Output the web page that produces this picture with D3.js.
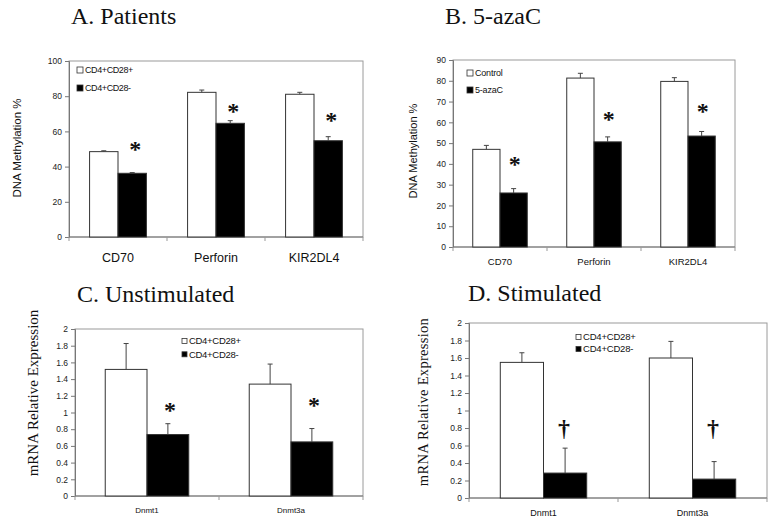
<!DOCTYPE html>
<html><head><meta charset="utf-8">
<script src="https://cdn.jsdelivr.net/npm/d3@7"></script>
<style>body{margin:0;background:#fff}svg{display:block}</style>
</head><body>
<svg id="c" width="774" height="522"></svg>
<script>
// Panel A: Patients
const catsA = ["CD70", "Perforin", "KIR2DL4"];
const seriesA = ["CD4+CD28+", "CD4+CD28-"];
const plusA = [48.5, 82.2, 81.1];
const plusErrA = [0.5, 1.3, 1.1];
const minusA = [36.2, 64.6, 54.7];
const minusErrA = [0.4, 1.5, 2.3];
const markA = [51.7, 73.1, 68.4];
const ticksA = [0, 20, 40, 60, 80, 100];

// Panel B: 5-azaC
const catsB = ["CD70", "Perforin", "KIR2DL4"];
const seriesB = ["Control", "5-azaC"];
const ctrlB = [47.0, 81.3, 79.7];
const ctrlErrB = [1.9, 2.3, 1.8];
const azaB = [26.0, 50.6, 53.4];
const azaErrB = [2.1, 2.4, 2.2];
const markB = [41.5, 63.0, 66.8];
const ticksB = [0, 10, 20, 30, 40, 50, 60, 70, 80, 90];

// Panel C: Unstimulated
const catsC = ["Dnmt1", "Dnmt3a"];
const seriesC = ["CD4+CD28+", "CD4+CD28-"];
const plusC = [1.516, 1.34];
const plusErrC = [0.31, 0.24];
const minusC = [0.736, 0.648];
const minusErrC = [0.13, 0.16];
const markC = [1.07, 1.13];
const ticksC = [0, 0.2, 0.4, 0.6, 0.8, 1, 1.2, 1.4, 1.6, 1.8, 2];

// Panel D: Stimulated
const catsD = ["Dnmt1", "Dnmt3a"];
const seriesD = ["CD4+CD28+", "CD4+CD28-"];
const plusD = [1.55, 1.60];
const plusErrD = [0.11, 0.19];
const minusD = [0.285, 0.216];
const minusErrD = [0.285, 0.20];
const markD = [0.78, 0.78];
const ticksD = [0, 0.2, 0.4, 0.6, 0.8, 1, 1.2, 1.4, 1.6, 1.8, 2];

const svg = d3.select("#c");
const SANS = "'Liberation Sans', Arial, sans-serif";
const SERIF = "'Liberation Serif', 'Times New Roman', serif";

function panel(o) {
  const g = svg.append("g");
  const x = d3.scaleBand().domain(o.cats).range([o.left, o.right]).paddingInner(0.42).paddingOuter(0.21);
  const xs = d3.scaleBand().domain([0, 1]).range([0, x.bandwidth()]);
  const y = d3.scaleLinear().domain([0, o.ymax]).range([o.bottom, o.top]);

  // title
  g.append("text").attr("x", o.titleX).attr("y", o.titleY)
    .attr("font-family", SERIF).attr("font-size", 24).attr("fill", "#111").text(o.title);

  // plot frame
  g.append("rect").attr("x", o.left).attr("y", o.top)
    .attr("width", o.right - o.left).attr("height", o.bottom - o.top)
    .attr("fill", "none").attr("stroke", "#9a9a9a").attr("stroke-width", 1);

  // y axis
  const ya = d3.axisLeft(y).tickValues(o.ticks).tickSize(4).tickPadding(3).tickFormat(d3.format(""));
  const yg = g.append("g").attr("transform", `translate(${o.left},0)`).call(ya);
  yg.select(".domain").attr("stroke", "#777");
  yg.selectAll(".tick line").attr("stroke", "#777");
  yg.selectAll("text").attr("font-family", SANS).attr("font-size", o.tickFs).attr("fill", "#222");

  // x axis: boundary ticks
  const bounds = d3.range(o.cats.length + 1).map(i => o.left + i * (o.right - o.left) / o.cats.length);
  g.append("line").attr("x1", o.left).attr("x2", o.right).attr("y1", o.bottom).attr("y2", o.bottom).attr("stroke", "#777");
  g.selectAll(".bt").data(bounds).join("line")
    .attr("x1", d => d).attr("x2", d => d).attr("y1", o.bottom).attr("y2", o.bottom + 4).attr("stroke", "#999");
  g.selectAll(".cl").data(o.cats).join("text")
    .attr("x", d => x(d) + x.bandwidth() / 2).attr("y", o.catY)
    .attr("text-anchor", "middle").attr("font-family", SANS).attr("font-size", o.catFs).attr("fill", "#111")
    .text(d => d);

  // bars
  const sers = [
    { vals: o.v0, errs: o.e0, fill: "#fff" },
    { vals: o.v1, errs: o.e1, fill: "#000" }
  ];
  sers.forEach((s, si) => {
    o.cats.forEach((c, ci) => {
      const bx = x(c) + xs(si);
      const bw = xs.bandwidth();
      const v = s.vals[ci], e = s.errs[ci];
      g.append("rect").attr("x", bx).attr("y", y(v)).attr("width", bw).attr("height", y(0) - y(v))
        .attr("fill", s.fill).attr("stroke", "#333").attr("stroke-width", 1);
      const cx = bx + bw / 2;
      g.append("line").attr("x1", cx).attr("x2", cx).attr("y1", y(v)).attr("y2", y(v + e)).attr("stroke", "#444");
      g.append("line").attr("x1", cx - 2.5).attr("x2", cx + 2.5).attr("y1", y(v + e)).attr("y2", y(v + e)).attr("stroke", "#444");
    });
  });

  // significance marks
  o.cats.forEach((c, ci) => {
    const cx = x(c) + xs(1) + xs.bandwidth() / 2 + o.markDx;
    g.append("text").attr("x", cx).attr("y", y(o.marks[ci]) + o.markOff)
      .attr("text-anchor", "middle").attr("font-family", SERIF).attr("font-weight", "bold")
      .attr("font-size", o.markFs).attr("fill", "#111").text(o.mark);
  });

  // legend
  o.series.forEach((s, i) => {
    const ly = o.legY + i * o.legDy;
    g.append("rect").attr("x", o.legX).attr("y", ly - o.legSq / 2).attr("width", o.legSq).attr("height", o.legSq)
      .attr("fill", i === 0 ? "#fff" : "#000").attr("stroke", "#333").attr("stroke-width", 0.8);
    g.append("text").attr("x", o.legX + o.legSq + 2).attr("y", ly).attr("dy", "0.35em")
      .attr("font-family", SANS).attr("font-size", o.legFs).attr("letter-spacing", o.legLs).attr("fill", "#111").text(s);
  });

  // y label
  g.append("text").attr("transform", `translate(${o.ylabX},${o.ylabY}) rotate(-90)`)
    .attr("text-anchor", "middle").attr("dy", "0.35em")
    .attr("font-family", o.ylabFont).attr("font-size", o.ylabFs).attr("letter-spacing", o.ylabLs || 0).attr("fill", "#111").text(o.ylab);
}

panel({ title: "A. Patients", titleX: 71, titleY: 24, cats: catsA, series: seriesA,
  v0: plusA, e0: plusErrA, v1: minusA, e1: minusErrA, marks: markA, mark: "*", markFs: 24, markOff: 11, markDx: 3,
  left: 69, right: 363, top: 61, bottom: 237, ymax: 100, ticks: ticksA, tickFs: 8.5,
  catY: 261.5, catFs: 12.5, legX: 77, legY: 70, legDy: 18, legSq: 6, legFs: 9, legLs: -0.4,
  ylab: "DNA Methylation %", ylabX: 17, ylabY: 148, ylabFont: SANS, ylabFs: 11.5 });

panel({ title: "B. 5-azaC", titleX: 445, titleY: 23.5, cats: catsB, series: seriesB,
  v0: ctrlB, e0: ctrlErrB, v1: azaB, e1: azaErrB, marks: markB, mark: "*", markFs: 24, markOff: 11, markDx: 1,
  left: 453, right: 735, top: 60, bottom: 247, ymax: 90, ticks: ticksB, tickFs: 8.5,
  catY: 265, catFs: 9.5, legX: 467, legY: 73, legDy: 17, legSq: 6, legFs: 9, legLs: -0.2,
  ylab: "DNA Methylation %", ylabX: 413, ylabY: 151, ylabFont: SANS, ylabFs: 11 });

panel({ title: "C. Unstimulated", titleX: 77, titleY: 302, cats: catsC, series: seriesC,
  v0: plusC, e0: plusErrC, v1: minusC, e1: minusErrC, marks: markC, mark: "*", markFs: 24, markOff: 11, markDx: 2,
  left: 75, right: 363, top: 329, bottom: 496, ymax: 2, ticks: ticksC, tickFs: 8.5,
  catY: 513, catFs: 8, legX: 182, legY: 341, legDy: 13.3, legSq: 5, legFs: 9.5, legLs: -0.3,
  ylab: "mRNA Relative Expression", ylabX: 33, ylabY: 393, ylabFont: SERIF, ylabFs: 15 });

panel({ title: "D. Stimulated", titleX: 468, titleY: 301, cats: catsD, series: seriesD,
  v0: plusD, e0: plusErrD, v1: minusD, e1: minusErrD, marks: markD, mark: "\u2020", markFs: 24, markOff: 6, markDx: -1,
  left: 469, right: 767, top: 323, bottom: 498, ymax: 2, ticks: ticksD, tickFs: 8.5,
  catY: 516, catFs: 9, legX: 576, legY: 337, legDy: 12, legSq: 5, legFs: 9.5, legLs: -0.2,
  ylab: "mRNA Relative Expression", ylabX: 423, ylabY: 402, ylabFont: SERIF, ylabFs: 14.5, ylabLs: 0.3 });
</script>
</body></html>
